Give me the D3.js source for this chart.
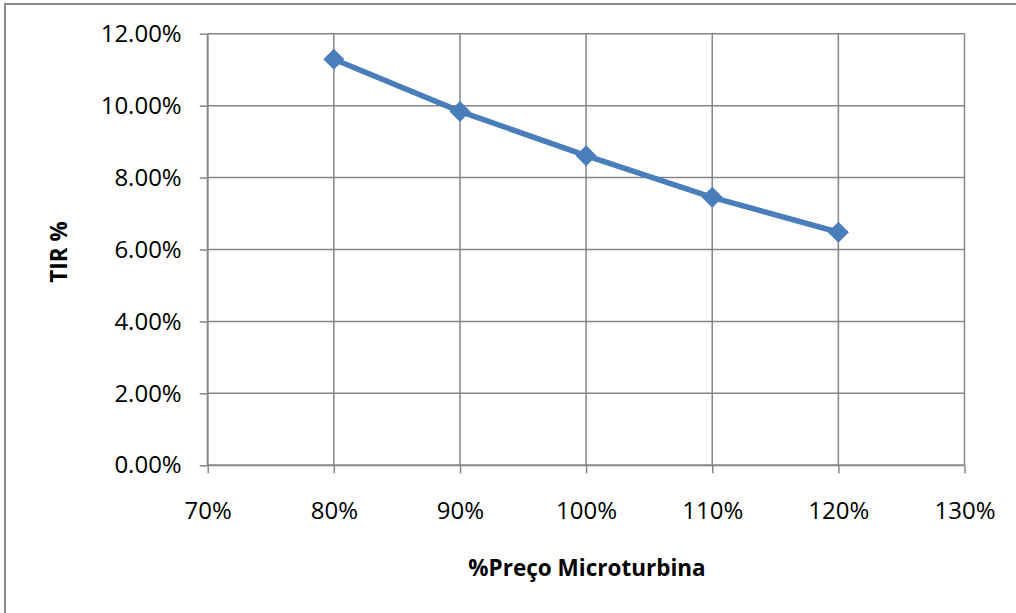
<!DOCTYPE html>
<html>
<head>
<meta charset="utf-8">
<script src="https://cdn.jsdelivr.net/npm/d3@7"></script>
<style>
  html, body { margin: 0; padding: 0; background: #fff; }
  svg { display: block; }
</style>
</head>
<body>
<svg id="chart" width="1016" height="613"></svg>
<script>
// Data
const categories = [0.8, 0.9, 1.0, 1.1, 1.2];
const tirValues = [0.1129, 0.0984, 0.0861, 0.0745, 0.0648];
const xTicks = [0.7, 0.8, 0.9, 1.0, 1.1, 1.2, 1.3];
const yTicks = [0, 0.02, 0.04, 0.06, 0.08, 0.10, 0.12];
const xTitle = "%Preço Microturbina";
const yTitle = "TIR %";

const svg = d3.select("#chart");
const font = "'Open Sans', 'Liberation Sans', sans-serif";
const gridColor = "#868686";
const lineColor = "#4a7ebb";

// Chart frame
svg.append("rect")
  .attr("x", 5).attr("y", 4)
  .attr("width", 1030).attr("height", 630)
  .attr("fill", "#fff")
  .attr("stroke", "#8c8c8c").attr("stroke-width", 2);

const plot = { left: 207.7, right: 964.5, top: 33.7, bottom: 465.3 };

const x = d3.scaleLinear().domain([0.7, 1.3]).range([plot.left, plot.right]);
const y = d3.scaleLinear().domain([0, 0.12]).range([plot.bottom, plot.top]);

// Gridlines
svg.append("g").selectAll("line.h").data(yTicks.filter(d => d > 0)).join("line")
  .attr("x1", plot.left).attr("x2", plot.right)
  .attr("y1", d => y(d)).attr("y2", d => y(d))
  .attr("stroke", gridColor).attr("stroke-width", 1.5);
svg.append("g").selectAll("line.v").data(xTicks.filter(d => d > 0.7)).join("line")
  .attr("x1", d => x(d)).attr("x2", d => x(d))
  .attr("y1", plot.top).attr("y2", plot.bottom)
  .attr("stroke", gridColor).attr("stroke-width", 1.5);

// Axes
const yAxis = d3.axisLeft(y).tickValues(yTicks).tickSize(8).tickPadding(18)
  .tickFormat(d => (d * 100).toFixed(2) + "%");
const gy = svg.append("g").attr("transform", `translate(${plot.left},0)`).call(yAxis);

const xAxis = d3.axisBottom(x).tickValues(xTicks).tickSize(8).tickPadding(29)
  .tickFormat(d => Math.round(d * 100) + "%");
const gx = svg.append("g").attr("transform", `translate(0,${plot.bottom})`).call(xAxis);

[gx, gy].forEach(g => {
  g.select(".domain").attr("stroke", gridColor).attr("stroke-width", 2);
  g.selectAll(".tick line").attr("stroke", gridColor).attr("stroke-width", 1.5);
  g.selectAll(".tick text")
    .attr("fill", "#000")
    .style("font-family", font)
    .style("font-size", "24px");
});
gx.select(".domain").attr("d", `M${plot.left},0H${plot.right}`);
gy.select(".domain").attr("d", `M0,${plot.top}V${plot.bottom}`);

// Line
const line = d3.line().x((d, i) => x(categories[i])).y(d => y(d));
svg.append("path")
  .datum(tirValues)
  .attr("d", line)
  .attr("fill", "none")
  .attr("stroke", lineColor)
  .attr("stroke-width", 5.5)
  .attr("stroke-linejoin", "round");

// Markers (diamonds)
svg.append("g").selectAll("path").data(tirValues).join("path")
  .attr("transform", (d, i) => `translate(${x(categories[i])},${y(d)})`)
  .attr("d", "M0,-10.5L10.5,0L0,10.5L-10.5,0Z")
  .attr("fill", lineColor);

// Titles
svg.append("text")
  .attr("x", 587).attr("y", 576)
  .attr("text-anchor", "middle")
  .style("font-family", font).style("font-size", "22.5px").style("font-weight", "bold")
  .text(xTitle);

svg.append("text")
  .attr("transform", "translate(67,252) rotate(-90)")
  .attr("text-anchor", "middle")
  .style("font-family", font).style("font-size", "22.5px").style("font-weight", "bold")
  .text(yTitle);
</script>
</body>
</html>
